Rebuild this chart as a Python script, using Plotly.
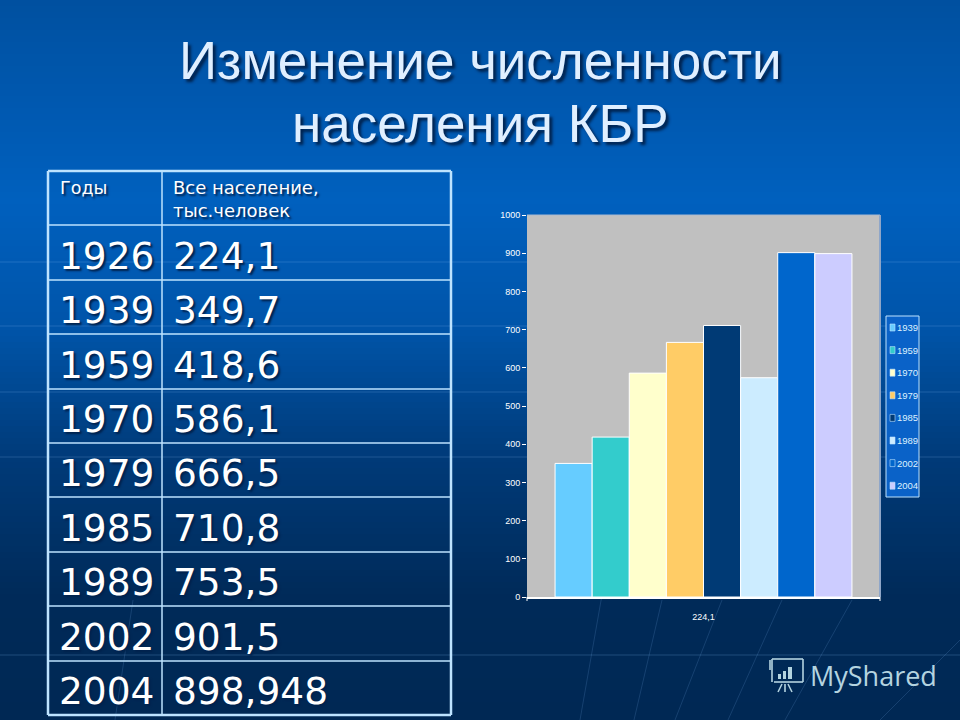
import plotly.graph_objects as go

title_lines = ["Изменение численности", "населения КБР"]
table_head = ["Годы", "Все население,<br>тыс.человек"]
table_years = ["1926", "1939", "1959", "1970", "1979", "1985", "1989", "2002", "2004"]
table_values = ["224,1", "349,7", "418,6", "586,1", "666,5", "710,8", "753,5", "901,5", "898,948"]

category = ["224,1"]
series_names = ["1939", "1959", "1970", "1979", "1985", "1989", "2002", "2004"]
series_values = [349.7, 418.6, 586.1, 666.5, 710.8, 574, 901.5, 898.9]
series_colors = ["#66CCFF", "#33CCCC", "#FFFFCC", "#FFCC66", "#003A75", "#CCECFF", "#0066CC", "#CCCCFF"]
y_ticks = [0, 100, 200, 300, 400, 500, 600, 700, 800, 900, 1000]

W, H = 960, 720
PL, PR, PT, PB = 527, 880, 215, 597
def px(x): return (x - PL) / (PR - PL)
def py(y): return (PB - y) / (PB - PT)

shapes = []
def rect(x0, y0, x1, y1, fill, line=None, lw=0):
    shapes.append(dict(type="rect", xref="paper", yref="paper", layer="below",
                       x0=px(x0), x1=px(x1), y0=py(y0), y1=py(y1), fillcolor=fill,
                       line=dict(color=line or fill, width=lw)))
def seg(x0, y0, x1, y1, color, lw=1, layer="below"):
    shapes.append(dict(type="line", xref="paper", yref="paper", layer=layer,
                       x0=px(x0), x1=px(x1), y0=py(y0), y1=py(y1), line=dict(color=color, width=lw)))

# vertical background gradient
stops = [(0, (0, 80, 160)), (200, (0, 96, 190)), (330, (0, 84, 168)), (460, (0, 58, 120)), (600, (0, 42, 88)), (720, (0, 40, 84))]
def grad(y):
    for (a, ca), (b, cb) in zip(stops, stops[1:]):
        if a <= y <= b:
            t = (y - a) / (b - a)
            return tuple(round(u + (v - u) * t) for u, v in zip(ca, cb))
    return stops[-1][1]
for y in range(0, H, 6):
    c = grad(y + 3)
    rect(0, y, W, y + 7, f"rgb({c[0]},{c[1]},{c[2]})")

# faint decorative lines
for y in [262, 326, 392, 457, 655]:
    seg(0, y, W, y, "rgba(120,180,240,0.12)", 2)
for a, b in [((133, 600), (115, 720)), ((602, 595), (580, 720)), ((662, 600), (634, 720)),
             ((722, 600), (675, 720)), ((782, 600), (728, 720)), ((852, 600), (785, 720)),
             ((960, 640), (880, 720))]:
    seg(a[0], a[1], b[0], b[1], "rgba(120,180,240,0.18)", 1)

# plot wall
rect(PL, PT, PR, PB, "#C0C0C0")
seg(PR, PT, PR, PB, "#8FA6C8", 2)
seg(PL, PT, PR, PT, "#A9B9CF", 1)
seg(PL, PB, PL, PB + 4, "white", 1, "above")
seg(PR, PB, PR, PB + 4, "white", 1, "above")

# table grid
TX = [48, 162, 451]
TY = [171, 225, 280, 334, 389, 443, 497, 552, 606, 661, 715]
GRID = "#BDE3FF"
for i, y in enumerate(TY):
    seg(TX[0], y, TX[2], y, GRID, 2.5 if i in (0, len(TY) - 1) else 1.5)
for i, x in enumerate(TX):
    seg(x, TY[0], x, TY[-1], GRID, 1.5 if i == 1 else 2.5)

annotations = []
def text(x, y, s, size, family="DejaVu Sans", color="white", anchor="left", va="middle", shadow=None, align="left"):
    annotations.append(dict(xref="paper", yref="paper", x=px(x), y=py(y), text=s, showarrow=False,
                            xanchor=anchor, yanchor=va, align=align,
                            font=dict(size=size, family=family, color=color, shadow=shadow or "none")))

SH = "2px 2px 2px #00224d"
text(480, 60, title_lines[0], 53, "Liberation Sans", "#E0EFFF", "center", shadow="3px 3px 3px #00224d")
text(480, 124, title_lines[1], 53, "Liberation Sans", "#E0EFFF", "center", shadow="3px 3px 3px #00224d")
text(58, 188, table_head[0], 17.5, shadow=SH)
text(171, 199, table_head[1], 18, shadow=SH)
for i, (yr, v) in enumerate(zip(table_years, table_values)):
    yc = (TY[i + 1] + TY[i + 2]) / 2 + 3
    text(57, yc, yr, 37.5, shadow=SH)
    text(171, yc, v, 37.5, shadow=SH)

# hand-built compact legend
rect(886, 316, 919, 497, "#0A62C8", "#BDE3FF", 1)
for i, (n, c) in enumerate(zip(series_names, series_colors)):
    yc = 327.5 + i * 22.6
    rect(890, yc - 3.5, 895, yc + 3.5, c, "#BDE3FF", 0.6)
    text(895, yc, n, 9.5, "Liberation Sans", "#DDF1FF")

# watermark
WM = "#B4D4E0"
text(808, 675, "MyShared", 27, "Open Sans", WM)
for x0, y0, x1, y1 in [(772, 659, 803, 659), (772, 659, 772, 682), (803, 659, 803, 682), (774, 682, 803, 682),
                       (782, 684, 778, 692), (785, 684, 785, 692), (788, 684, 792, 692), (770, 660, 770, 670)]:
    seg(x0, y0, x1, y1, WM, 1.6, "above")
for x0, y0, x1, y1 in [(778, 674, 781, 679), (783, 671, 786, 679), (788, 667, 792, 679)]:
    rect(x0, y0, x1, y1, WM)

fig = go.Figure()
for n, v, c in zip(series_names, series_values, series_colors):
    fig.add_bar(x=category, y=[v], name=n, marker=dict(color=c, line=dict(color="white", width=1)))

axfont = dict(size=9, family="Liberation Sans", color="white")
fig.update_layout(
    width=W, height=H, showlegend=False, barmode="group", bargap=0.159, bargroupgap=0,
    margin=dict(l=PL, r=W - PR, t=PT, b=H - PB, pad=0),
    paper_bgcolor="#00509F", plot_bgcolor="rgba(0,0,0,0)",
    shapes=shapes, annotations=annotations,
    xaxis=dict(type="category", range=[-0.5, 0.5], showgrid=False, showline=True, linecolor="white",
               linewidth=1.5, ticks="", tickfont=axfont, ticklabelstandoff=10),
    yaxis=dict(range=[0, 1000], tickvals=y_ticks, showgrid=False, zeroline=False, showline=False,
               ticks="outside", ticklen=4, tickcolor="white", tickfont=axfont),
)
fig.write_html("out.html", config=dict(displayModeBar=False),
               post_script="document.body.style.margin='0';document.body.style.overflow='hidden';")
